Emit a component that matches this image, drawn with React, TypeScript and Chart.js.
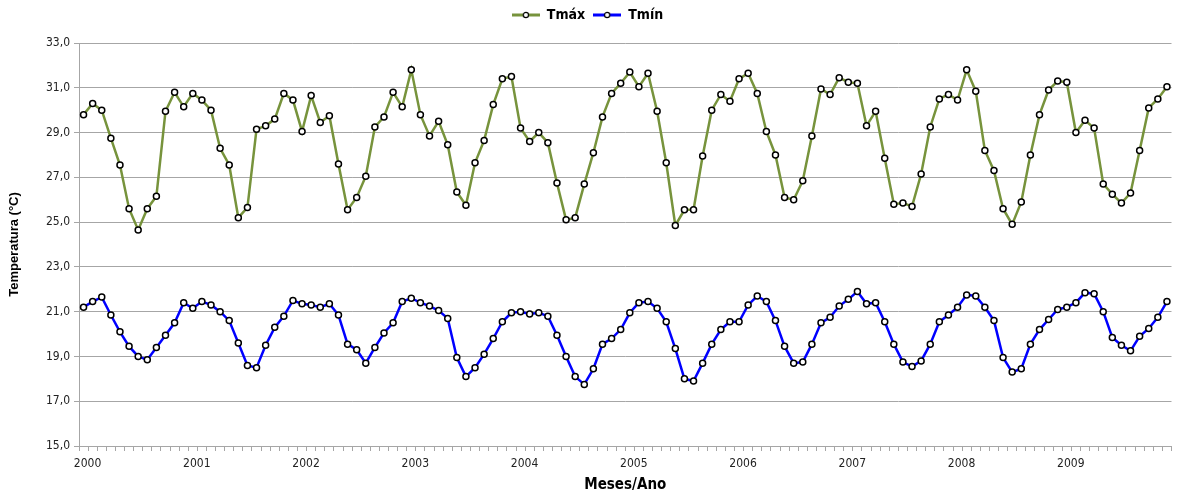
import React, { useEffect, useRef } from "react";
import { Chart, registerables } from "chart.js";

Chart.register(...registerables);

const years = ["2000", "2001", "2002", "2003", "2004", "2005", "2006", "2007", "2008", "2009"];
const monthNames = ["jan", "fev", "mar", "abr", "mai", "jun", "jul", "ago", "set", "out", "nov", "dez"];
const categories = years.flatMap((y) => monthNames.map((m) => `${m}/${y}`));

const tmax = [
  29.8, 30.3, 30.0, 28.75, 27.55, 25.6, 24.65, 25.6, 26.15, 29.95, 30.8, 30.15,
  30.75, 30.45, 30.0, 28.3, 27.55, 25.2, 25.65, 29.15, 29.3, 29.6, 30.75, 30.45,
  29.05, 30.65, 29.45, 29.75, 27.6, 25.55, 26.1, 27.05, 29.25, 29.7, 30.8, 30.15,
  31.8, 29.8, 28.85, 29.5, 28.45, 26.35, 25.75, 27.65, 28.65, 30.25, 31.4, 31.5,
  29.2, 28.6, 29.0, 28.55, 26.75, 25.1, 25.2, 26.7, 28.1, 29.7, 30.75, 31.2,
  31.7, 31.05, 31.65, 29.95, 27.65, 24.85, 25.55, 25.55, 27.95, 30.0, 30.7, 30.4,
  31.4, 31.65, 30.75, 29.05, 28.0, 26.1, 26.0, 26.85, 28.85, 30.95, 30.7, 31.45,
  31.25, 31.2, 29.3, 29.95, 27.85, 25.8, 25.85, 25.7, 27.15, 29.25, 30.5, 30.7,
  30.45, 31.8, 30.85, 28.2, 27.3, 25.6, 24.9, 25.9, 28.0, 29.8, 30.9, 31.3,
  31.25, 29.0, 29.55, 29.2, 26.7, 26.25, 25.85, 26.3, 28.2, 30.1, 30.5, 31.05,
];

const tmin = [
  21.2, 21.45, 21.65, 20.85, 20.1, 19.45, 19.0, 18.85, 19.4, 19.95, 20.5, 21.4,
  21.15, 21.45, 21.3, 21.0, 20.6, 19.6, 18.6, 18.5, 19.5, 20.3, 20.8, 21.5,
  21.35, 21.3, 21.2, 21.35, 20.85, 19.55, 19.3, 18.7, 19.4, 20.05, 20.5, 21.45,
  21.6, 21.4, 21.25, 21.05, 20.7, 18.95, 18.1, 18.5, 19.1, 19.8, 20.55, 20.95,
  21.0, 20.9, 20.95, 20.8, 19.95, 19.0, 18.1, 17.75, 18.45, 19.55, 19.8, 20.2,
  20.95, 21.4, 21.45, 21.15, 20.55, 19.35, 18.0, 17.9, 18.7, 19.55, 20.2, 20.55,
  20.55, 21.3, 21.7, 21.45, 20.6, 19.45, 18.7, 18.75, 19.55, 20.5, 20.75, 21.25,
  21.55, 21.9, 21.35, 21.4, 20.55, 19.55, 18.75, 18.55, 18.8, 19.55, 20.55, 20.85,
  21.2, 21.75, 21.7, 21.2, 20.6, 18.95, 18.3, 18.45, 19.55, 20.2, 20.65, 21.1,
  21.2, 21.4, 21.85, 21.8, 21.0, 19.85, 19.5, 19.25, 19.9, 20.25, 20.75, 21.45,
];

const yTicks = [15, 17, 19, 21, 23, 25, 27, 29, 31, 33];

const seriesNames = ["Tmáx", "Tmín"];
const seriesColors = ["#77933C", "#0000FF"];

const narrow = '"Liberation Sans Narrow", "DejaVu Sans Condensed", "Liberation Sans", Arial, sans-serif';

function makeLegendIcon(color: string): HTMLCanvasElement {
  const c = document.createElement("canvas");
  c.width = 28;
  c.height = 10;
  const g = c.getContext("2d")!;
  g.strokeStyle = color;
  g.lineWidth = 3;
  g.beginPath();
  g.moveTo(0, 5);
  g.lineTo(28, 5);
  g.stroke();
  g.beginPath();
  g.arc(14, 5, 2.6, 0, Math.PI * 2);
  g.fillStyle = "#fff";
  g.fill();
  g.lineWidth = 1.2;
  g.strokeStyle = "#000";
  g.stroke();
  return c;
}

const legendSpacer = {
  id: "legendSpacer",
  beforeInit(chart: any) {
    const legend = chart.legend;
    if (!legend) return;
    const origFit = legend.fit;
    legend.fit = function () {
      origFit.call(this);
      this.height += 11;
    };
  },
};

export default function App() {
  const ref = useRef<HTMLCanvasElement>(null);

  useEffect(() => {
    if (!ref.current) return;
    const icons = seriesColors.map(makeLegendIcon);
    const mkDs = (i: number, data: number[]) => ({
      label: seriesNames[i],
      data,
      borderColor: seriesColors[i],
      backgroundColor: seriesColors[i],
      borderWidth: 2.5,
      tension: 0,
      pointRadius: 3,
      pointBackgroundColor: "#ffffff",
      pointBorderColor: "#000000",
      pointBorderWidth: 1.5,
    });
    const chart = new Chart(ref.current, {
      type: "line",
      data: {
        labels: categories,
        datasets: [mkDs(0, tmax), mkDs(1, tmin)],
      },
      plugins: [legendSpacer],
      options: {
        responsive: false,
        animation: false,
        layout: { padding: { left: 0, right: 2, top: 0, bottom: 0 } },
        plugins: {
          tooltip: { enabled: false },
          legend: {
            position: "top",
            labels: {
              usePointStyle: true,
              pointStyleWidth: 28,
              padding: 8,
              color: "#000",
              font: { family: narrow, size: 14, weight: "bold" },
              generateLabels: (ch: any) => {
                const base = Chart.defaults.plugins.legend.labels.generateLabels(ch);
                return base.map((l: any, i: number) => ({ ...l, pointStyle: icons[i] }));
              },
            },
          },
        },
        scales: {
          x: {
            type: "category",
            offset: true,
            grid: {
              offset: true,
              drawOnChartArea: false,
              drawTicks: true,
              tickLength: 5,
              color: "#a6a6a6",
            },
            border: { color: "#a6a6a6" },
            ticks: {
              autoSkip: false,
              maxRotation: 0,
              minRotation: 0,
              padding: 6,
              labelOffset: 4,
              color: "#222",
              font: { family: narrow, size: 12 },
              callback: (_v: any, idx: number) => (idx % 12 === 0 ? years[idx / 12] : ""),
            },
            title: {
              display: true,
              text: "Meses/Ano",
              color: "#000",
              font: { family: narrow, size: 15, weight: "bold" },
              padding: { top: 0, bottom: 4 },
            },
            afterFit: (s: any) => {
              s.height = 52;
            },
          },
          y: {
            min: 15,
            max: 33,
            afterBuildTicks: (s: any) => {
              s.ticks = yTicks.map((v) => ({ value: v }));
            },
            grid: { color: "#a6a6a6", tickLength: 5 },
            border: { color: "#a6a6a6" },
            ticks: {
              padding: 4,
              color: "#222",
              font: { family: narrow, size: 12 },
              callback: (v: any) => Number(v).toFixed(1).replace(".", ","),
            },
            title: {
              display: true,
              text: "Temperatura (°C)",
              color: "#000",
              font: { family: '"Liberation Sans", Arial, sans-serif', size: 13, weight: "bold" },
              padding: { top: 7, bottom: 0 },
            },
            afterFit: (s: any) => {
              s.width = 79;
            },
          },
        },
      },
    });
    return () => chart.destroy();
  }, []);

  return (
    <div style={{ position: "fixed", left: 0, top: 0, width: 1177, height: 498, background: "#fff" }}>
      <canvas ref={ref} width={1177} height={498} style={{ width: 1177, height: 498, display: "block" }} />
    </div>
  );
}
